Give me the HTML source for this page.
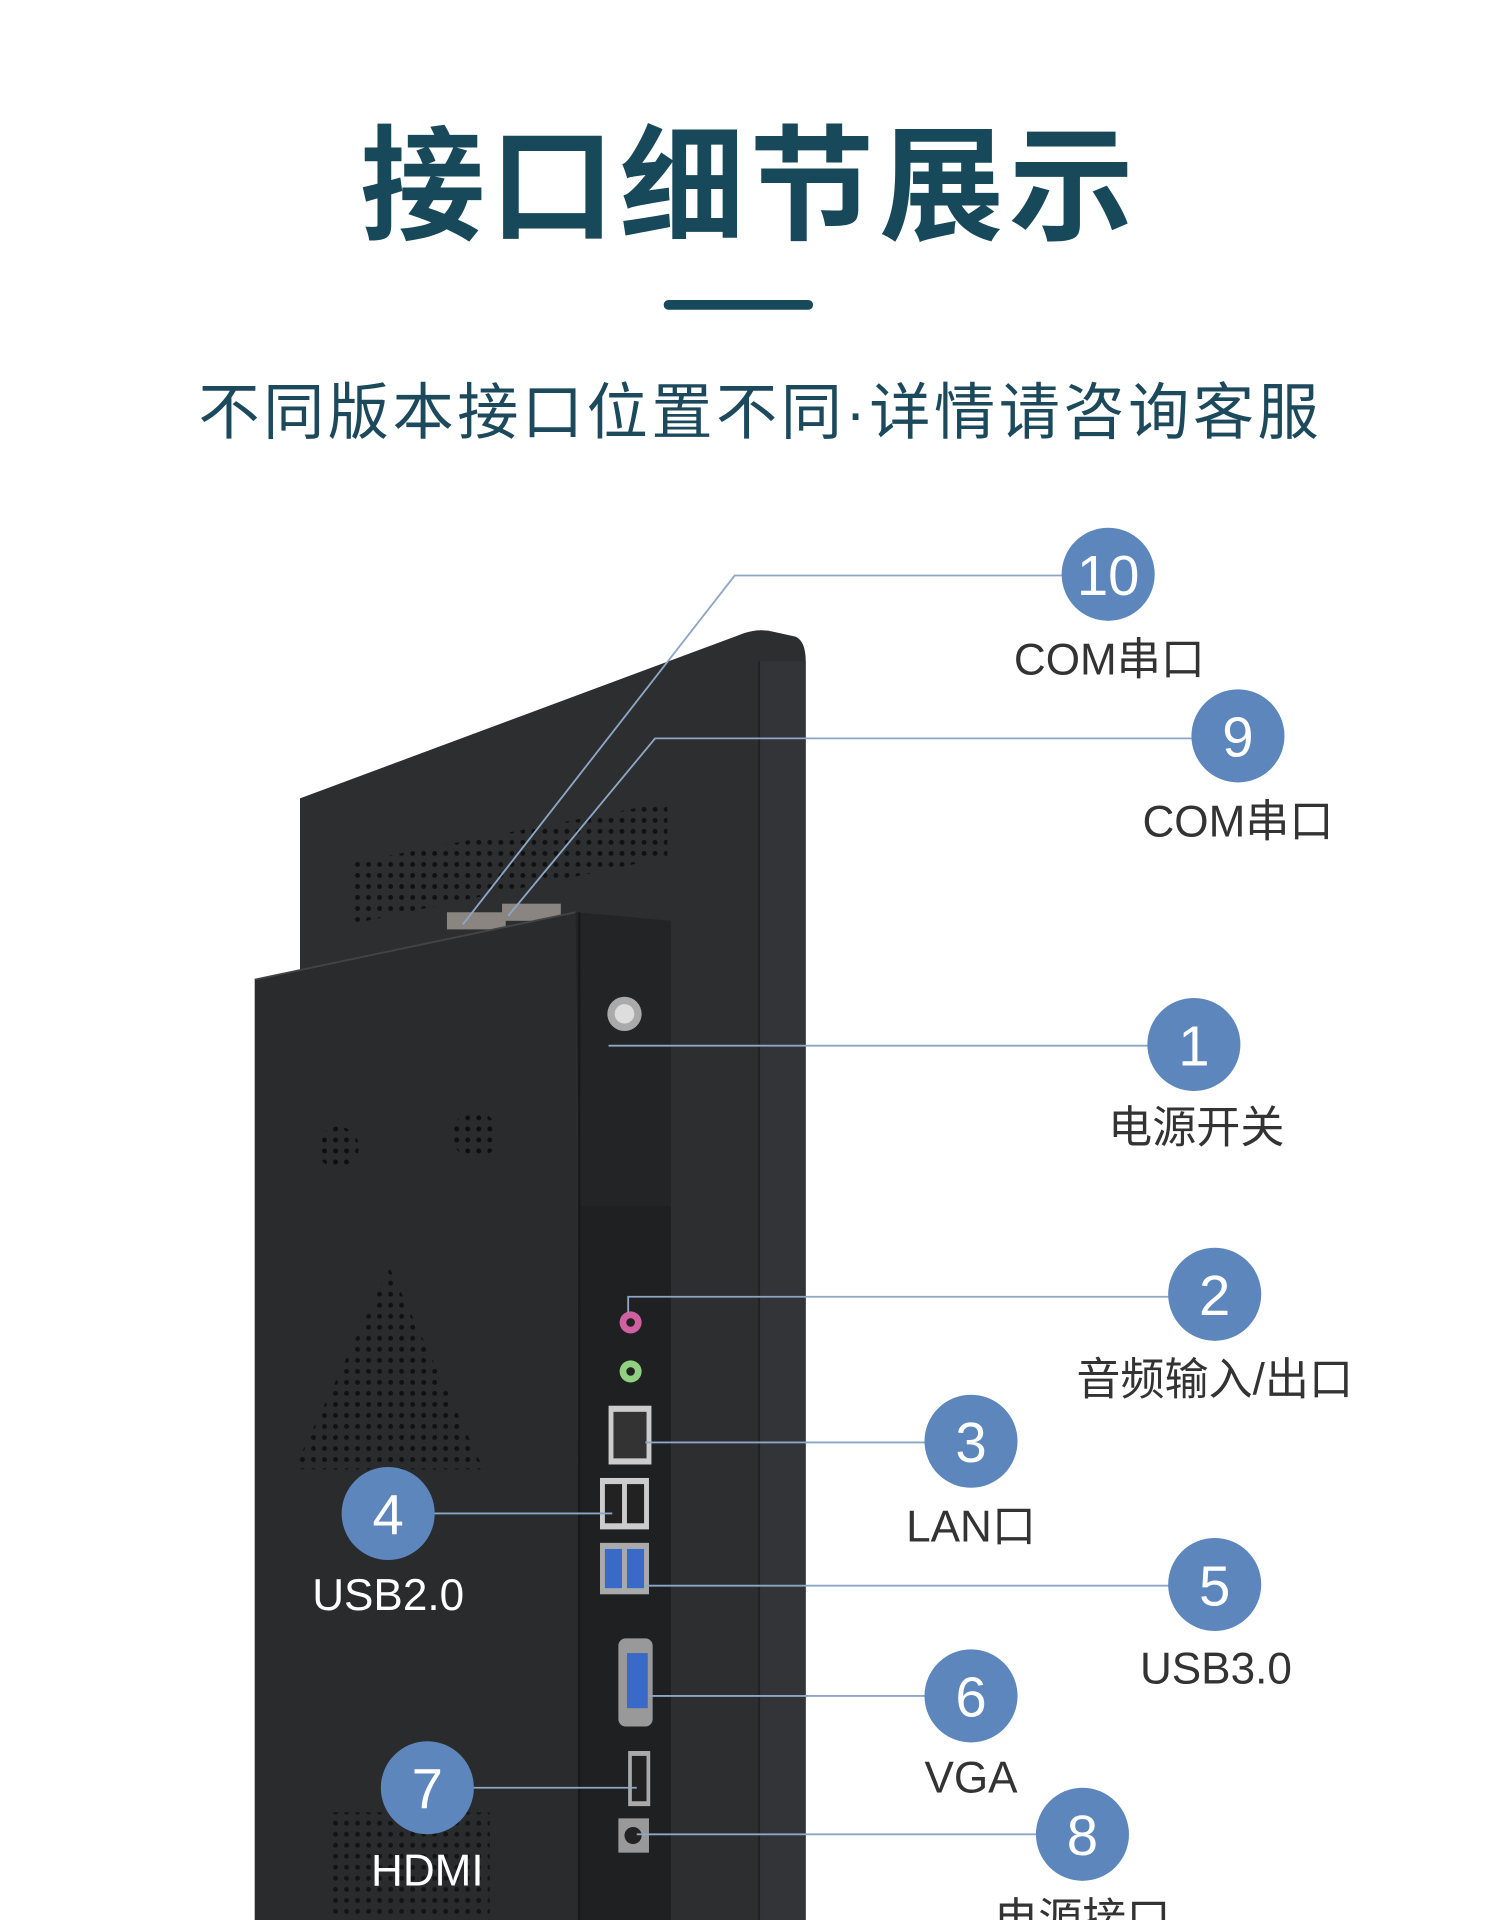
<!DOCTYPE html>
<html><head><meta charset="utf-8"><style>
html,body{margin:0;padding:0;background:#fff;}
svg{display:block;}
text{font-family:"Liberation Sans","Noto Sans CJK SC",sans-serif;}
</style></head><body>
<svg width="1500" height="1920" viewBox="0 0 1225 1568" preserveAspectRatio="none" xmlns="http://www.w3.org/2000/svg">
<defs>
<pattern id="dots" width="9" height="9" patternUnits="userSpaceOnUse"><circle cx="4" cy="4" r="2" fill="#0e0e0f"/></pattern>
</defs>
<rect width="1225" height="1568" fill="#fff"/>
<text x="612" y="188" text-anchor="middle" font-size="102" font-weight="bold" fill="#17495a" letter-spacing="4">接口细节展示</text>
<rect x="542" y="245" width="122" height="8" rx="4" fill="#17495a"/>
<text x="162" y="354" textLength="915" lengthAdjust="spacing" font-size="50" fill="#1c4a5c">不同版本接口位置不同·详情请咨询客服</text>

<!-- monitor back -->
<path d="M245,652 L608,517 Q620,513 632,516 L650,520 Q658,524 658,540 L658,1568 L245,1568 Z" fill="#2d2e30"/>
<path d="M620,540 L658,540 L658,1568 L620,1568 Z" fill="#333437"/>
<line x1="620" y1="540" x2="620" y2="1568" stroke="#202123" stroke-width="1.5"/>
<path d="M285,705 L545,655 L545,700 L285,755 Z" fill="url(#dots)" opacity="0.9"/>
<rect x="365" y="745" width="48" height="14" fill="#8a8580"/>
<rect x="410" y="738" width="48" height="14" fill="#8a8580"/>
<path d="M208,800 L470,745 L473,1568 L208,1568 Z" fill="#2a2b2d"/>
<line x1="208" y1="800" x2="470" y2="745" stroke="#444" stroke-width="1.5"/>
<path d="M470,745 L548,752 L548,985 L473,985 Z" fill="#232426"/>
<path d="M473,985 L548,985 L548,1568 L473,1568 Z" fill="#1f2022"/>
<line x1="473" y1="745" x2="473" y2="1568" stroke="#18191a" stroke-width="2"/>
<circle cx="276" cy="937" r="17" fill="url(#dots)"/>
<circle cx="388" cy="927" r="19" fill="url(#dots)"/>
<path d="M318,1035 L395,1200 L240,1200 Z" fill="url(#dots)" opacity="0.9"/>
<path d="M270,1480 L400,1480 L400,1568 L270,1568 Z" fill="url(#dots)" opacity="0.8"/>
<circle cx="510" cy="828" r="14" fill="#aaa"/><circle cx="510" cy="828" r="8" fill="#ddd"/>
<circle cx="515" cy="1080" r="9" fill="#d060a0"/><circle cx="515" cy="1080" r="3.5" fill="#222"/>
<circle cx="515" cy="1120" r="9" fill="#90d080"/><circle cx="515" cy="1120" r="3.5" fill="#222"/>
<rect x="497" y="1148" width="35" height="48" fill="#ccc"/><rect x="501" y="1153" width="27" height="38" fill="#333"/>
<rect x="490" y="1207" width="40" height="42" fill="#ccc"/><rect x="494" y="1212" width="14" height="32" fill="#222"/><rect x="512" y="1212" width="14" height="32" fill="#222"/>
<rect x="490" y="1260" width="40" height="42" fill="#aaa"/><rect x="494" y="1265" width="14" height="32" fill="#3a6ac8"/><rect x="512" y="1265" width="14" height="32" fill="#3a6ac8"/>
<rect x="505" y="1338" width="28" height="72" rx="6" fill="#999"/><rect x="512" y="1350" width="17" height="45" fill="#3a6ac8"/>
<rect x="513" y="1430" width="18" height="45" fill="#aaa"/><rect x="516" y="1434" width="12" height="37" fill="#222"/>
<rect x="505" y="1485" width="25" height="28" fill="#999"/><circle cx="517" cy="1499" r="7" fill="#222"/>

<g stroke="#8ea6c6" stroke-width="1.5" fill="none">
<polyline points="378,755 600,470 905,470"/>
<polyline points="415,748 535,603 1011,603"/>
<line x1="497" y1="854" x2="975" y2="854"/>
<polyline points="513,1072 513,1059 992,1059"/>
<line x1="527" y1="1178" x2="793" y2="1178"/>
<line x1="317" y1="1236" x2="500" y2="1236"/>
<line x1="527" y1="1295" x2="992" y2="1295"/>
<line x1="530" y1="1385" x2="793" y2="1385"/>
<line x1="349" y1="1460" x2="520" y2="1460"/>
<line x1="520" y1="1498" x2="884" y2="1498"/>
</g>
<g fill="#5d86bd">
<circle cx="905" cy="469" r="38"/><circle cx="1011" cy="601" r="38"/><circle cx="975" cy="853" r="38"/>
<circle cx="992" cy="1057" r="38"/><circle cx="793" cy="1177" r="38"/><circle cx="317" cy="1236" r="38"/>
<circle cx="992" cy="1294" r="38"/><circle cx="793" cy="1385" r="38"/><circle cx="349" cy="1460" r="38"/>
<circle cx="884" cy="1498" r="38"/>
</g>
<g fill="#fff" font-size="46" text-anchor="middle">
<text x="905" y="486">10</text><text x="1011" y="618">9</text><text x="975" y="870">1</text>
<text x="992" y="1074">2</text><text x="793" y="1194">3</text><text x="317" y="1253">4</text>
<text x="992" y="1311">5</text><text x="793" y="1402">6</text><text x="349" y="1477">7</text>
<text x="884" y="1515">8</text>
</g>
<g fill="#333" font-size="36" text-anchor="middle">
<text x="906" y="551">COM串口</text><text x="1011" y="683">COM串口</text><text x="977" y="933">电源开关</text>
<text x="992" y="1139">音频输入/出口</text><text x="793" y="1259">LAN口</text><text x="993" y="1375">USB3.0</text>
<text x="793" y="1464">VGA</text><text x="884" y="1580">电源接口</text>
</g>
<g fill="#fff" font-size="36" text-anchor="middle">
<text x="317" y="1315">USB2.0</text><text x="349" y="1540">HDMI</text>
</g>
</svg>
</body></html>
